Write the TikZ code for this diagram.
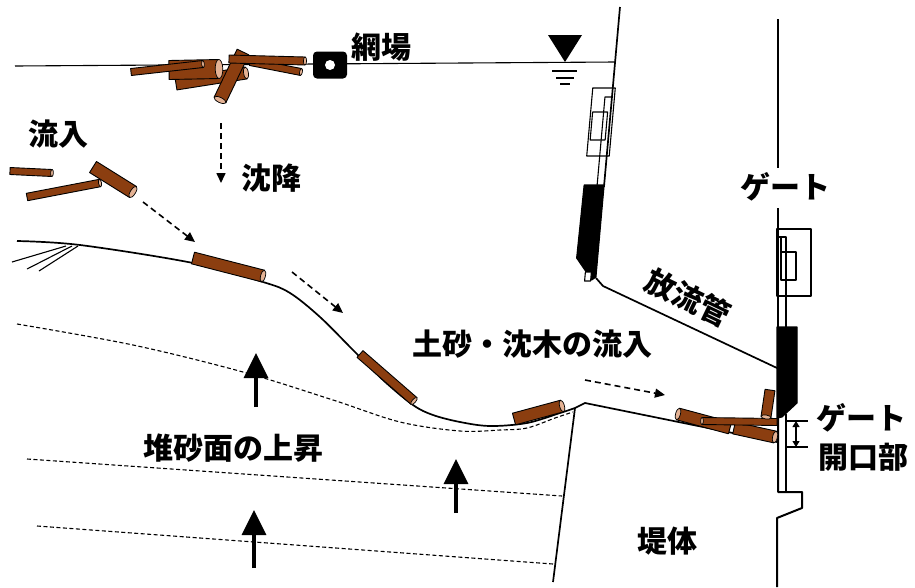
\documentclass[tikz,border=0pt]{standalone}
\usepackage{fontspec}
\setmainfont{Noto Sans CJK JP}
\usetikzlibrary{calc,arrows.meta}
\definecolor{brun}{RGB}{139,62,16}
\definecolor{clair}{RGB}{228,178,148}

% rondin : extremite de depart, extremite avec la coupe, epaisseur
\newcommand{\rondin}[3]{%
  \path let \p1=(#1), \p2=(#2) in \pgfextra{%
    \pgfmathsetmacro{\rang}{atan2(\y2-\y1,\x2-\x1)}%
    \pgfmathsetmacro{\rlen}{veclen(\x2-\x1,\y2-\y1)}%
    \xdef\rang{\rang}\xdef\rlen{\rlen}};
  \begin{scope}[shift={(#1)},rotate=\rang]
    \draw[bois] (0pt,-#3pt/2) -- (\rlen pt,-#3pt/2) -- (\rlen pt,#3pt/2) -- (0pt,#3pt/2) -- cycle;
    \draw[bout] (\rlen pt,0pt) ellipse [x radius=#3pt/5, y radius=#3pt/2];
  \end{scope}}

\begin{document}
\begin{tikzpicture}[x=1pt,y=-1pt,line join=round]
  \tikzstyle{trait}=[line width=1.7pt]
  \tikzstyle{fin}=[line width=1.1pt]
  \tikzstyle{bois}=[fill=brun,draw=black,line width=0.9pt]
  \tikzstyle{bout}=[fill=clair,draw=black,line width=0.7pt]
  \tikzstyle{tirets}=[line width=1.1pt,dash pattern=on 4pt off 2.5pt]
  \tikzstyle{fleche}=[line width=1.6pt,dash pattern=on 6pt off 4pt,-{Triangle[length=10pt,width=9pt]}]
  \tikzstyle{monte}=[line width=3.5pt,-{Triangle[length=25pt,width=24pt]}]
  \tikzstyle{txt}=[font=\fontsize{30}{33}\selectfont\bfseries,inner sep=0pt]
  \useasboundingbox (0,0) rectangle (915,587);

  % Surface de l'eau
  \draw[fin] (15,66) -- (615,62);
  \fill (548,35) -- (582,35) -- (565,62) -- cycle;
  \draw[fin] (552,71) -- (577,71) (556,78) -- (574,78) (560,84) -- (570,84);

  % Bois flottants devant le filet
  \rondin{176,84}{246,73}{12}
  \rondin{169,70}{219,69}{19}
  \rondin{243,52}{220,100}{13}
  \rondin{250,62}{301,72}{7}
  \rondin{229,59}{305,61}{8}
  \rondin{131,72}{203,64}{7}

  % Filet
  \node[fill=black,rounded corners=4pt,minimum width=34pt,minimum height=27pt] (ami) at (330,65) {};
  \fill[white] (ami.center) circle (5pt);

  % Parement amont et vanne du pertuis
  \begin{scope}[shift={(620.6,0)},xslant=0.089]
    \draw[trait] (0,7) -- (0,187);
    \draw[fin] (-20,88) rectangle (2.5,156);
    \draw[fin] (-18,112) rectangle (-3,140);
    \draw[fin] (-7,187) -- (-7,97) -- (0,97);
    \filldraw[fin] (-20,185) -- (0,185) -- (0,277) -- (-4,280) -- (-21,258) -- cycle;
    \filldraw[fin,fill=white] (-11,272) rectangle (-5,281);
  \end{scope}
  % Conduite de vidange
  \draw[trait] (596,278) -- (603,286) -- (777,368);

  % Vanne aval
  \draw[trait] (778,19) -- (778,168);
  \draw[trait] (778,208) -- (778,327);
  \draw[fin] (777,229) rectangle (811,296);
  \draw[fin] (781,252) rectangle (796,280);
  \draw[fin] (781,237) -- (781,252);
  \draw[fin] (778,237) -- (786,237) -- (786,327);
  \filldraw[fin] (777,327) -- (797,327) -- (797,403) -- (782,417) -- (777,418) -- cycle;
  \draw[line width=2pt] (778,418) -- (778,492) -- (802,492) -- (802,508) -- (777,518) -- (777,587);
  \draw[fin] (786,414) -- (786,492);
  % Ouverture
  \draw[fin] (786,421) -- (808,421) (786,447) -- (808,447);
  \draw[fin,{Triangle[length=6pt,width=7pt]}-{Triangle[length=6pt,width=7pt]}] (796,421) -- (796,447);

  % Lit actuel
  \draw[trait] plot[smooth,tension=0.55] coordinates {(17,241) (80,245) (193,263) (263,282) (290,293)
    (320,317) (353,350) (383,380) (413,405) (433,415) (460,422) (490,426) (527,423) (560,413) (575,408)}
    -- (585,403) -- (777,442);
  \draw[fin] (12,262) -- (66,246) (27,269) -- (72,246) (39,271) -- (78,246);
  % Anciens niveaux
  \draw[tirets] plot[smooth,tension=0.55] coordinates {(17,324) (133,345) (243,372) (333,400) (400,422)
    (460,431) (500,430) (527,428) (555,418) (573,412)};
  \draw[tirets] (27,459) -- (562,496);
  \draw[tirets] (37,526) -- (553,564);
  % Barrage
  \draw[trait] (575,408) -- (553,582);

  % Bois charries
  \rondin{10,171}{52,173}{7}
  \rondin{27,197}{100,183}{7.5}
  \rondin{93,167}{133,192}{13}
  \rondin{193,258}{263,276}{12}
  \rondin{360,354}{414,401}{9}
  \rondin{514,419}{562,406}{12}
  \rondin{730,428}{678,414}{12}
  \rondin{734,428}{775,437}{12}
  \rondin{777,422}{702,421}{7}
  \rondin{770,390}{766,417}{10}

  % Fleches
  \draw[fleche] (221,123) -- (221,183);
  \draw[fleche] (143,202) -- (195,242);
  \draw[fleche] (292,272) -- (343,313);
  \draw[fleche] (585,380) -- (665,395);
  \draw[monte] (256,407) -- (256,353);
  \draw[monte] (456,513) -- (456,459);
  \draw[monte] (254,568) -- (254,510);

  % Textes
  \node[txt] (amiba) at (381,47) {網場};
  \node[txt] (ryunyu) at (58,134) {流入};
  \node[txt] (chinko) at (271,178) {沈降};
  \node[txt] (gate) at (785,187) {ゲート};
  \node[txt,rotate=-25.6] (hoso) at (688,298) {放流管};
  \node[txt] (dosha) at (532,344) {土砂・沈木の流入};
  \node[txt] (taisa) at (233,448) {堆砂面の上昇};
  \node[txt] (teitai) at (667,541) {堤体};
  \node[txt] (gate2) at (861,418) {ゲート};
  \node[txt] (kaiko) at (863,457) {開口部};
\end{tikzpicture}
\end{document}
